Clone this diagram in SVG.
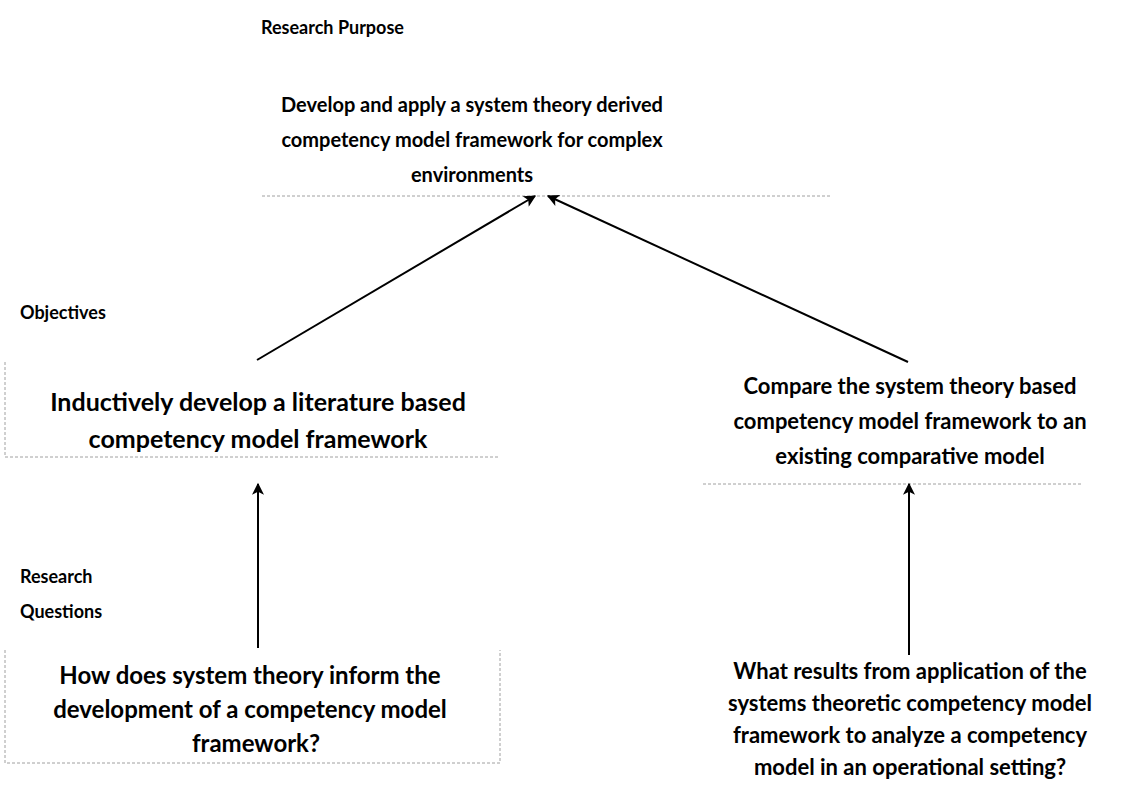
<svg xmlns="http://www.w3.org/2000/svg" width="1144" height="786" viewBox="0 0 1144 786">
<style>
text{font-family:Lato,"Liberation Sans",sans-serif;font-weight:bold;fill:#000}
.lbl{font-size:18px}
.nt{text-anchor:middle}
.s20{font-size:20px}
.s22{font-size:22px}
.s24{font-size:24px}
.s25{font-size:25px}
.bd{stroke:#a0a0a0;stroke-width:1;stroke-dasharray:3 2;fill:none}
.cn{stroke:#000;stroke-width:2;fill:none;marker-end:url(#ah)}
</style>
<defs>
<marker id="ah" viewBox="0 0 10 10" refX="9" refY="5" markerWidth="14" markerHeight="12" orient="auto" markerUnits="userSpaceOnUse">
<path d="M0,0 L10,5 L0,10 L2.5,5 z" fill="#000"/>
</marker>
</defs>
<rect width="1144" height="786" fill="#fff"/>
<g id="labels">
<text class="lbl" x="261" y="34">Research Purpose</text>
<text class="lbl" x="20" y="319">Objectives</text>
<text class="lbl" x="20" y="583">Research</text>
<text class="lbl" x="20" y="618">Questions</text>
</g>
<g id="purpose">
<line class="bd" x1="262" y1="196" x2="830" y2="196"/>
<text class="nt s20" x="472" y="112">Develop and apply a system theory derived</text>
<text class="nt s20" x="472" y="147">competency model framework for complex</text>
<text class="nt s20" x="472" y="182">environments</text>
</g>
<g id="obj1">
<polyline class="bd" points="5,362 5,457 500,457"/>
<text class="nt s25" x="258" y="411">Inductively develop a literature based</text>
<text class="nt s25" x="258" y="448">competency model framework</text>
</g>
<g id="obj2">
<line class="bd" x1="703" y1="484" x2="1082" y2="484"/>
<text class="nt s22" x="910" y="394">Compare the system theory based</text>
<text class="nt s22" x="910" y="429">competency model framework to an</text>
<text class="nt s22" x="910" y="464">existing comparative model</text>
</g>
<g id="q1">
<polyline class="bd" points="5,650 5,763 500,763 500,650"/>
<text class="nt s24" x="250" y="684">How does system theory inform the</text>
<text class="nt s24" x="250" y="718">development of a competency model</text>
<text class="nt s24" x="256" y="752">framework?</text>
</g>
<g id="q2">
<text class="nt s22" x="910" y="679">What results from application of the</text>
<text class="nt s22" x="910" y="711">systems theoretic competency model</text>
<text class="nt s22" x="910" y="743">framework to analyze a competency</text>
<text class="nt s22" x="910" y="775">model in an operational setting?</text>
</g>
<g id="connectors">
<line class="cn" x1="257" y1="360" x2="535" y2="196"/>
<line class="cn" x1="908" y1="362" x2="548" y2="196"/>
<line class="cn" x1="258" y1="648" x2="258" y2="484"/>
<line class="cn" x1="909" y1="655" x2="909" y2="484"/>
</g>
</svg>
